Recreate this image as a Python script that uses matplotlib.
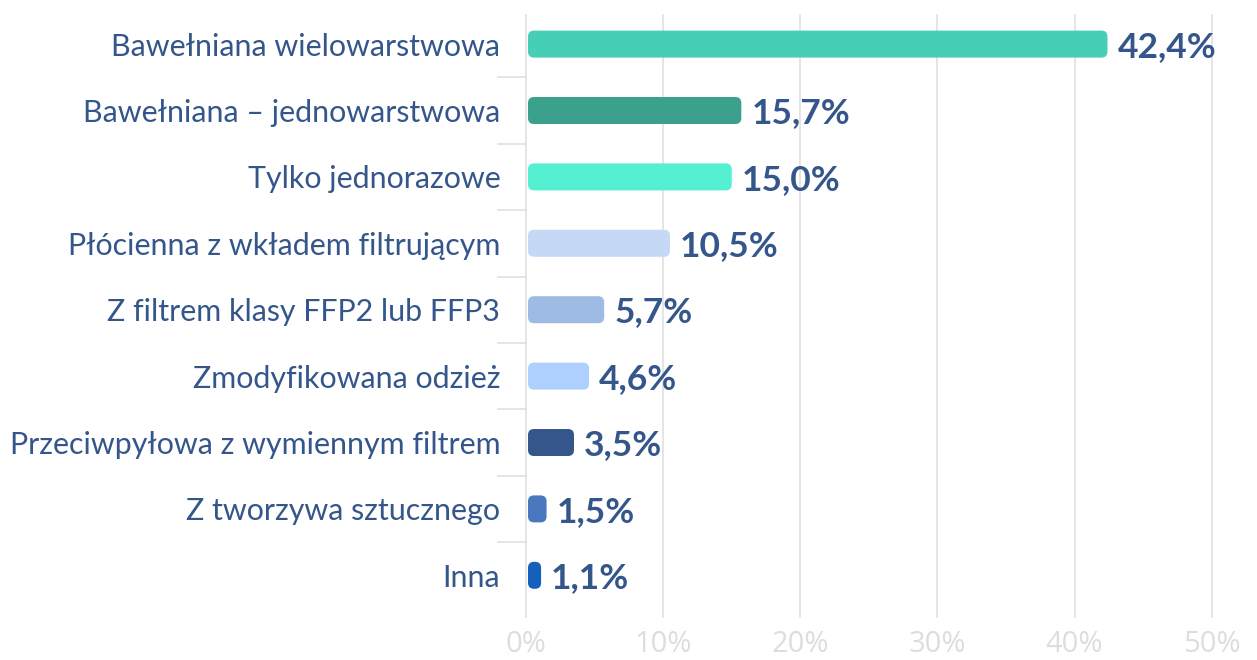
import matplotlib
matplotlib.use("Agg")
import matplotlib.pyplot as plt
from matplotlib.patches import FancyBboxPatch

categories = [
    "Bawełniana wielowarstwowa",
    "Bawełniana – jednowarstwowa",
    "Tylko jednorazowe",
    "Płócienna z wkładem filtrującym",
    "Z filtrem klasy FFP2 lub FFP3",
    "Zmodyfikowana odzież",
    "Przeciwpyłowa z wymiennym filtrem",
    "Z tworzywa sztucznego",
    "Inna",
]
values = [42.4, 15.7, 15.0, 10.5, 5.7, 4.6, 3.5, 1.5, 1.1]
value_labels = ["42,4%", "15,7%", "15,0%", "10,5%", "5,7%", "4,6%", "3,5%", "1,5%", "1,1%"]
colors = ["#47CFB6", "#3BA08C", "#55EFD1", "#C5D9F7", "#9DBBE3",
          "#ADD0FF", "#34568B", "#4A78BE", "#1560BD"]
xticks = [0, 10, 20, 30, 40, 50]
xtick_labels = ["0%", "10%", "20%", "30%", "40%", "50%"]

W, H = 1257, 660
fig = plt.figure(figsize=(W / 100, H / 100), dpi=100)
left, right = 526 / W, 1211.7 / W
top_px, bot_px = 10.9, 608.5
ax = fig.add_axes([left, 1 - bot_px / H, right - left, (bot_px - top_px) / H])

n = len(categories)
ax.set_xlim(0, 50)
ax.set_ylim(n - 0.5, -0.5)

text_color = "#34568B"
grid_color = "#E0E0E0"

ax_w_px = (right - left) * W
ax_h_px = bot_px - top_px
px_per_x = ax_w_px / 50
px_per_y = ax_h_px / n
bar_h = 27 / px_per_y
r_px = 6
rx = r_px / px_per_x
m_aspect = px_per_x / px_per_y
label_off = 10 / px_per_x
bar_start = 2 / px_per_x

for i, (v, c, lab) in enumerate(zip(values, colors, value_labels)):
    bars = ax.barh(i, v - bar_start, left=bar_start, height=bar_h, color=c, alpha=0)
    b = bars[0]
    x0, y0 = b.get_x(), b.get_y()
    w, h = b.get_width(), b.get_height()
    rr = min(rx, w / 2)
    patch = FancyBboxPatch((x0, y0), w, h,
                           boxstyle=f"round,pad=0,rounding_size={rr}",
                           mutation_aspect=m_aspect,
                           facecolor=c, edgecolor="none", zorder=3)
    ax.add_patch(patch)
    ax.text(v + label_off, i + 0.04, lab, va="center", ha="left",
            fontsize=25.5, fontweight="bold", family="Lato", color=text_color, zorder=4)

for xt in xticks:
    ax.axvline(xt, ymin=-(617 - bot_px) / ax_h_px, ymax=1 - 4 / ax_h_px,
               color=grid_color, lw=1.2, clip_on=False, zorder=1)

trans = ax.get_yaxis_transform()
sep_len = 28 / ax_w_px
for k in range(1, n):
    ax.plot([-sep_len, 0], [k - 0.5, k - 0.5], transform=trans, color=grid_color,
            lw=1.2, clip_on=False)

ax.set_yticks(range(n))
ax.set_yticklabels(categories, fontsize=21.9, family="Lato", color=text_color)
ax.tick_params(axis="y", length=0, pad=18.5)
ax.set_xticks(xticks)
ax.set_xticklabels(xtick_labels, fontsize=21, family="Open Sans", color="#DDDDDD")
ax.tick_params(axis="x", length=0, pad=15.5)

for s in ax.spines.values():
    s.set_visible(False)

fig.savefig("out.png", dpi=100)
